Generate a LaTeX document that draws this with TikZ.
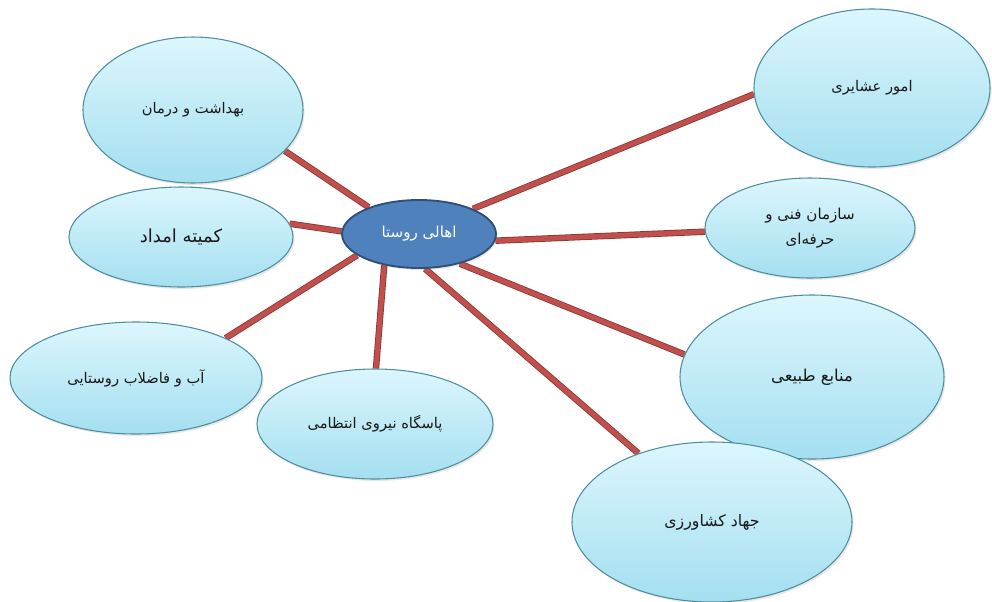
\documentclass[tikz,border=0pt]{standalone}
\usepackage{fontspec}
\newfontfamily\fa[Script=Arabic]{DejaVu Sans}
\TeXXeTstate=1
\usetikzlibrary{shapes.geometric,backgrounds,shadows}
\definecolor{ellfillT}{HTML}{DCF6FD}
\definecolor{ellfillB}{HTML}{A4DFF0}
\definecolor{elledge}{HTML}{4E8E9E}
\definecolor{cfill}{HTML}{4F81BD}
\definecolor{cedge}{HTML}{2F4F78}
\definecolor{connfill}{HTML}{C0504D}
\definecolor{connedge}{HTML}{8E3431}
\begin{document}
\begin{tikzpicture}[x=0.75pt,y=-0.75pt,
  ell/.style={ellipse, inner sep=0pt, draw=elledge, line width=0.8pt,
    top color=ellfillT, bottom color=ellfillB,
    drop shadow={opacity=0.18, shadow xshift=1.2pt, shadow yshift=-1.5pt},
    font=\fa\fontsize{11}{17}\selectfont, text=black!90, align=center},
  ellsz/.style 2 args={minimum width=#1*1.5pt, minimum height=#2*1.5pt},
  hub/.style={ellipse, inner sep=0pt, draw=cedge, line width=1.4pt, fill=cfill,
    drop shadow={opacity=0.2, shadow xshift=1pt, shadow yshift=-1.5pt},
    font=\fa\fontsize{11.3}{14}\selectfont, text=white},
  conn/.style={draw=connedge, line width=0.6pt, double=connfill, double distance=3.6pt}]
\useasboundingbox (0,0) rectangle (992,601);

\node[hub, ellsz={77}{34}] (c) at (419,234) {\beginR اهالی روستا\endR};

\node[ell, ellsz={110}{73}] (beh) at (193,110) {\beginR بهداشت و درمان\endR};
\node[ell, ellsz={112}{50}, font=\fa\fontsize{13.5}{16}\selectfont] (kom) at (181,237) {\beginR کمیته امداد\endR};
\node[ell, ellsz={126}{56}] (ab) at (136,378) {\beginR آب و فاضلاب روستایی\endR};
\node[ell, ellsz={118}{55}] (pas) at (375,424) {\beginR پاسگاه نیروی انتظامی\endR};
\node[ell, ellsz={132}{82}, font=\fa\fontsize{12.3}{16}\selectfont] (man) at (812,377) {\beginR منابع طبیعی\endR};
\node[ell, ellsz={140}{80}, font=\fa\fontsize{11.8}{16}\selectfont] (jah) at (712,522) {\beginR جهاد کشاورزی\endR};
\node[ell, ellsz={105}{50}, font=\fa\fontsize{11.3}{19}\selectfont] (saz) at (810,228) {\beginR سازمان فنی و\endR\\\beginR حرفه‌ای\endR};
\node[ell, ellsz={118}{79}] (omr) at (872,88) {\beginR امور عشایری\endR};

\begin{scope}[on background layer]
\fill[white] (0,0) rectangle (992,601);
\draw[conn] (c.152) -- (beh.336);
\draw[conn] (c.178) -- (kom.7);
\draw[conn] (c.199) -- (ab.24);
\draw[conn] (c.222) -- (pas.89);
\draw[conn] (c.280) -- (jah.137);
\draw[conn] (c.324) -- (man.170);
\draw[conn] (c.355) -- (saz.182);
\draw[conn] (c.25) -- (omr.183);
\end{scope}
\end{tikzpicture}
\end{document}
